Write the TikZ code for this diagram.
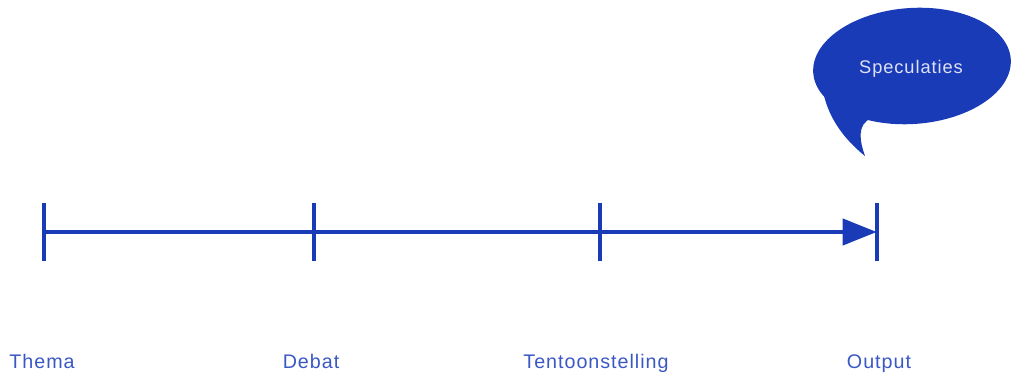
\documentclass[tikz,border=0pt]{standalone}
\usepackage{fontspec}
\setmainfont{Liberation Sans}[LetterSpace=5.0]
\usepackage{tikz}
\usetikzlibrary{arrows.meta}
\definecolor{axisblue}{HTML}{1A3BB8}
\definecolor{labelblue}{HTML}{3A58C4}
\tikzset{
  axis/.style={draw=axisblue, line width=2.9pt},
  tick/.style={rectangle, inner sep=0pt, minimum width=0pt, minimum height=1.425cm},
  stage/.style={text=labelblue, anchor=base, inner sep=0pt, font=\fontsize{14}{16}\selectfont},
}
\begin{document}
\begin{tikzpicture}[x=0.025cm, y=-0.025cm]
      \useasboundingbox (0,0) rectangle (1014,380);

      % the bubble
      \fill[axisblue] (912,66) ellipse [x radius=99, y radius=58, rotate=4];
      \fill[axisblue] (822,66) .. controls (818,110) and (845,140) .. (865,156)
        .. controls (860,142) and (856,124) .. (872,118)
        .. controls (882,115) and (895,120) .. (905,123) -- cycle;
      \node[text=white!85!axisblue, font=\fontsize{13}{15}\selectfont] (bubble) at (911,69) {Speculaties};

      % ticks
      \node[tick] (thema-tick) at (44,232) {};
      \node[tick] (debat-tick) at (314,232) {};
      \node[tick] (tent-tick) at (600,232) {};
      \node[tick] (output-tick) at (877,232) {};
      \foreach \t in {thema-tick, debat-tick, tent-tick, output-tick}
        \draw[axis, line width=2.4pt] (\t.north) -- (\t.south);

      \draw[axis, -{Triangle[length=0.85cm, width=0.65cm]}] (thema-tick) -- (output-tick);

      % labels
      \node[stage] (thema) at (42,368) {Thema};
      \node[stage] (debat) at (311,368) {Debat};
      \node[stage] (tent) at (596,368) {Tentoonstelling};
      \node[stage] (output) at (879,368) {Output};
\end{tikzpicture}
\end{document}
